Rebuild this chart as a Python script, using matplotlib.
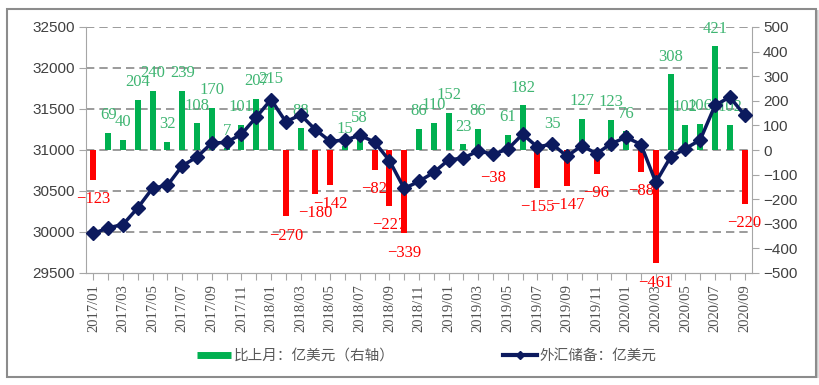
import matplotlib.pyplot as plt
import matplotlib.patches as patches
from matplotlib.lines import Line2D

months = [f"{y}/{m:02d}" for y in range(2017, 2021) for m in range(1, 13)][:45]

# month-on-month change, 100 million USD (right axis)
change = [-123, 69, 40, 204, 240, 32, 239, 108, 170, 7, 101, 207,
          215, -270, 88, -180, -142, 15, 58, -82, -227, -339, 86, 110,
          152, 23, 86, -38, 61, 182, -155, 35, -147, 127, -96, 123,
          76, -88, -461, 308, 102, 106, 421, 102, -220]

# FX reserves, 100 million USD (left axis)
reserves = [29982, 30051, 30091, 30295, 30535, 30568, 30807, 30915, 31085, 31092, 31193, 31399,
            31615, 31345, 31428, 31248, 31106, 31121, 31179, 31097, 30870, 30531, 30617, 30727,
            30879, 30902, 30988, 30950, 31010, 31192, 31037, 31072, 30924, 31052, 30956, 31079,
            31155, 31067, 30606, 30915, 31017, 31123, 31544, 31646, 31426]

left_ticks = [29500, 30000, 30500, 31000, 31500, 32000, 32500]
right_ticks = list(range(-500, 501, 100))

green = "#00b050"
green_txt = "#3fb572"
red = "#ff0000"
navy = "#0c1a5e"
grid_c = "#8a8a8a"
spine_c = "#a6a6a6"
tick_txt = "#404040"

fig = plt.figure(figsize=(8.19, 3.85), dpi=100)
ax1 = fig.add_axes([86 / 819, 1 - 273 / 385, (752 - 86) / 819, (273 - 27) / 385])
ax2 = ax1.twinx()
ax1.set_zorder(ax2.get_zorder() + 1)
ax1.patch.set_visible(False)

x = list(range(len(months)))

# grid lines (drawn on bar axis, under the bars)
for v in left_ticks[1:]:
    ax2.axhline((v - 31000) / 1500 * 500, color=grid_c, lw=1.2,
                linestyle=(0, (5, 3)), zorder=0)

colors = [green if c >= 0 else red for c in change]
ax2.bar(x, change, width=0.4, color=colors, zorder=2)

for xi, c in zip(x, change):
    txt = str(c) if c >= 0 else "\u2212" + str(-c)
    off = 7 if c >= 0 else -8
    ax2.annotate(txt, (xi, c), xytext=(0, off), textcoords="offset points",
                 ha="center", va="bottom" if c >= 0 else "top",
                 fontsize=12, family="Liberation Serif",
                 color=green_txt if c >= 0 else red, zorder=3)

ax1.plot(x, reserves, color=navy, lw=2.5, marker="D", markersize=7,
         markeredgecolor=navy, zorder=4)

ax1.set_xlim(-0.5, len(months) - 0.5)
ax1.set_ylim(29500, 32500)
ax2.set_ylim(-500, 500)
ax1.set_yticks(left_ticks)
ax2.set_yticks(right_ticks)
ax1.set_yticklabels([str(v) for v in left_ticks])
ax2.set_yticklabels([str(v) if v >= 0 else "\u2212" + str(-v) for v in right_ticks])

ax1.set_xticks(x)
ax1.set_xticklabels([m if i % 2 == 0 else "" for i, m in enumerate(months)],
                    rotation=90, family="Liberation Serif", fontsize=10.5, color="#505050")

for a in (ax1, ax2):
    for s in a.spines.values():
        s.set_color(spine_c)
    a.spines["top"].set_visible(False)
ax1.spines["right"].set_visible(False)
ax2.spines["left"].set_visible(False)

ax1.tick_params(axis="y", direction="out", length=5, color=spine_c,
                labelsize=11, labelcolor=tick_txt, pad=3)
ax2.tick_params(axis="y", direction="out", length=5, color=spine_c,
                labelsize=11, labelcolor=tick_txt, pad=3)
ax1.tick_params(axis="x", direction="out", length=5, color=spine_c, pad=3)
for lab in ax1.get_yticklabels() + ax2.get_yticklabels():
    lab.set_family("Liberation Sans")

# legends
leg_font = {"family": ["Noto Sans CJK SC", "DejaVu Sans"], "size": 10.5}
h1 = Line2D([], [], color=green, lw=5, solid_capstyle="butt")
h2 = Line2D([], [], color=navy, lw=3, marker="D", markersize=4)
l1 = fig.legend([h1], ["比上月：亿美元（右轴）"], loc="center left",
                bbox_to_anchor=(197 / 819, 1 - 356 / 385), frameon=False,
                prop=leg_font, handlelength=2.3, handletextpad=0.2,
                borderpad=0, borderaxespad=0)
l2 = fig.legend([h2], ["外汇储备：亿美元"], loc="center left",
                bbox_to_anchor=(503 / 819, 1 - 356 / 385), frameon=False,
                prop=leg_font, handlelength=2.3, handletextpad=0.2,
                borderpad=0, borderaxespad=0)
for lg in (l1, l2):
    for t in lg.get_texts():
        t.set_color("#595959")

# outer frame and right shadow
fig.patches.append(patches.Rectangle((7 / 819, 1 - 377 / 385), (816 - 7) / 819,
                                     (377 - 9) / 385, transform=fig.transFigure,
                                     fill=False, ec="#8c8c8c", lw=1.5))
for i, g in enumerate(["#c8c8c8", "#d6d6d6", "#e2e2e2"]):
    fig.patches.append(patches.Rectangle(((817 + i * 0.7) / 819, 1 - 378 / 385), 0.7 / 819,
                                         (378 - 10) / 385, transform=fig.transFigure,
                                         fc=g, ec="none"))

fig.savefig("out.png", dpi=100)
